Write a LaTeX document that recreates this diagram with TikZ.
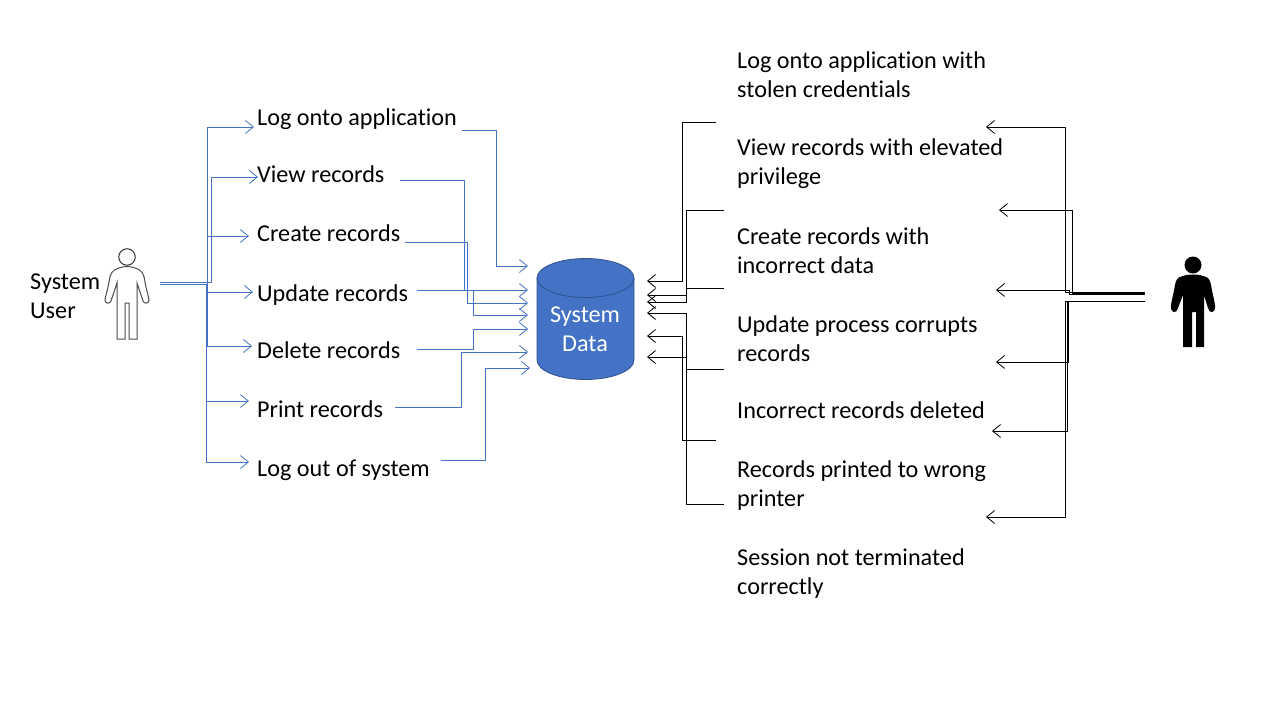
\documentclass[tikz,border=0pt]{standalone}
\usepackage{fontspec}
\setmainfont[Ligatures={NoCommon}]{Carlito}
\usepackage{tikz}
\usetikzlibrary{arrows.meta}
\definecolor{dbblue}{HTML}{4472C4}
\definecolor{dbedge}{HTML}{2F528F}
\tikzset{
  lbl/.style={anchor=west,font=\fontsize{24.2}{29}\selectfont,align=left,inner sep=0pt},
  blueln/.style={dbblue,line width=1pt,-{Straight Barb[length=8pt,width=13pt,line width=0.8pt]}},
  blackln/.style={black,line width=1pt,-{Straight Barb[length=8pt,width=13pt,line width=0.8pt]}},
}
\begin{document}
\begin{tikzpicture}[x=1pt,y=-1pt]
\useasboundingbox (0,0) rectangle (1280,720);
% left labels
\node [lbl] (logon) at (257,119) {Log onto application};
\node [lbl] (view) at (257,174.5) {View records};
\node [lbl] (create) at (257,233.5) {Create records};
\node [lbl] (update) at (257,295) {Update records};
\node [lbl] (delete) at (257,350.5) {Delete records};
\node [lbl] (print) at (257,409.5) {Print records};
\node [lbl] (logout) at (257,470) {Log out of system};
\node [lbl] (sysuser) at (30,296.5) {System\\User};
% right labels
\node [lbl] (rlogon) at (737,75) {Log onto application with\\stolen credentials};
\node [lbl] (rview) at (737,164) {View records with elevated\\privilege};
\node [lbl] (rcreate) at (737,250.5) {Create records with\\incorrect data};
\node [lbl] (rupdate) at (737,338.5) {Update process corrupts\\records};
\node [lbl] (rdelete) at (737,410.5) {Incorrect records deleted};
\node [lbl] (rprint) at (737,486) {Records printed to wrong\\printer};
\node [lbl] (rsession) at (737,574) {Session not terminated\\correctly};
% system user
\draw [black!70,line width=1pt,fill=white] (119,268) .. controls (112,270) and (110,274) .. (109,282)
  .. controls (108,288) and (106,294) .. (105,300) .. controls (105,304) and (110,304) .. (111,301)
  -- (117,283) -- (117,339) -- (125,339) -- (125,303) -- (129,303) -- (129,339) -- (137,339) -- (137,283)
  -- (143,301) .. controls (144,304) and (149,304) .. (149,300) .. controls (148,294) and (146,288) .. (145,282)
  .. controls (144,274) and (142,270) .. (135,268) .. controls (130,266) and (124,266) .. (119,268) -- cycle;
\node [circle,draw=black!80,line width=1pt,fill=white,minimum size=16.5pt,inner sep=0pt] (userhead) at (127,257) {};
% attacker
\fill [black] (1183,276) .. controls (1178,277) and (1176,279) .. (1175,285)
  .. controls (1174,292) and (1172,298) .. (1171,305) .. controls (1170,314) and (1177,314) .. (1178,308)
  -- (1183,295) -- (1183,347) -- (1192,347) -- (1192,312) -- (1196,312) -- (1196,347) -- (1204,347) -- (1204,295)
  -- (1208,308) .. controls (1209,314) and (1216,314) .. (1215,305) .. controls (1214,298) and (1212,292) .. (1211,285)
  .. controls (1210,279) and (1208,277) .. (1203,276) .. controls (1198,274) and (1188,274) .. (1183,276) -- cycle;
\node [circle,fill=black,minimum size=17pt,inner sep=0pt] (attackhead) at (1193,265) {};
% database
\draw [dbedge,fill=dbblue,line width=0.8pt] (537,278) -- (537,360) arc [start angle=180,end angle=360,x radius=48.5,y radius=-19.5]
  -- (634,278) arc [start angle=0,end angle=180,x radius=48.5,y radius=-19.5];
\draw [dbedge,line width=0.8pt] (537,278) arc [start angle=180,end angle=360,x radius=48.5,y radius=-19.5];
\node [align=center,text=white,font=\fontsize{24.2}{29}\selectfont] (sysdata) at (585,329) {System\\Data};
% blue connectors
\coordinate (ua) at (160,282);
\coordinate (ub) at (160,284);
\draw [blueln] (ua) -- (207,282) -- (207,127) -- (254,127);
\draw [blueln] (ua) -- (211,282) -- (211,177) -- (258,177);
\draw [blueln] (ub) -- (207,284) -- (207,236) -- (249,236);
\draw [blueln] (ub) -- (207,284) -- (207,292) -- (253,292);
\draw [blueln] (ub) -- (207,284) -- (207,346) -- (252,346);
\draw [blueln] (ub) -- (206,284) -- (206,401) -- (249,401);
\draw [blueln] (ub) -- (206,284) -- (206,462) -- (249,462);
\draw [blueln] (462,130) -- (496,130) -- (496,266) -- (528,266);
\draw [blueln] (400,180) -- (464,180) -- (464,290) -- (528,290);
\draw [blueln] (405,242) -- (467,242) -- (467,303) -- (528,303);
\draw [blueln] (417,290) -- (473,290) -- (473,315) -- (528,315);
\draw [blueln] (417,349) -- (473,349) -- (473,329) -- (528,329);
\draw [blueln] (395,407) -- (461,407) -- (461,352) -- (528,352);
\draw [blueln] (441,460) -- (485,460) -- (485,368) -- (530,368);
% black connectors
\draw [blackln] (716,122) -- (682,122) -- (682,281) -- (647,281);
\draw [blackln] (724,210) -- (686,210) -- (686,295) -- (647,295);
\draw [blackln] (724,288) -- (686,288) -- (686,302) -- (647,302);
\draw [blackln] (724,369) -- (686,369) -- (686,313) -- (647,313);
\draw [blackln] (716,440) -- (682,440) -- (682,336) -- (647,336);
\draw [blackln] (724,504) -- (686,504) -- (686,357) -- (647,357);
\coordinate (aa) at (1145,292.4);
\coordinate (ac) at (1145,293.4);
\coordinate (ad) at (1145,294);
\coordinate (ab) at (1145,301.5);
\draw [blackln] (aa) -- (1065.5,292.4) -- (1065.5,127) -- (986,127);
\draw [blackln] (ac) -- (1072,293.4) -- (1072,210) -- (999,210);
\draw [blackln] (ad) -- (1069,294) -- (1069,290) -- (996,290);
\draw [blackln] (ab) -- (1068,301.5) -- (1068,362) -- (996,362);
\draw [blackln] (ab) -- (1067,301.5) -- (1067,431) -- (992,431);
\draw [blackln] (ab) -- (1065.5,301.5) -- (1065.5,517) -- (986,517);
\end{tikzpicture}
\end{document}
